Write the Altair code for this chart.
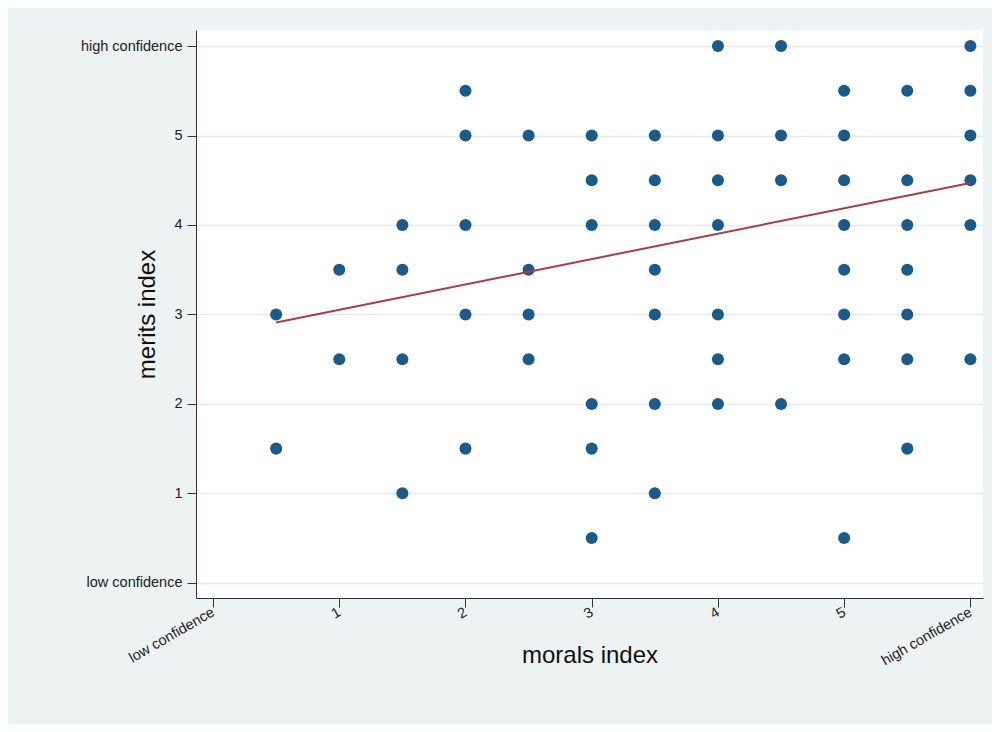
import altair as alt
import pandas as pd

# scatter data: morals index (x) vs merits index (y)
morals = [0.5, 0.5,
          1, 1,
          1.5, 1.5, 1.5, 1.5,
          2, 2, 2, 2, 2,
          2.5, 2.5, 2.5, 2.5,
          3, 3, 3, 3, 3, 3,
          3.5, 3.5, 3.5, 3.5, 3.5, 3.5, 3.5,
          4, 4, 4, 4, 4, 4, 4,
          4.5, 4.5, 4.5, 4.5,
          5, 5, 5, 5, 5, 5, 5, 5,
          5.5, 5.5, 5.5, 5.5, 5.5, 5.5, 5.5,
          6, 6, 6, 6, 6, 6]
merits = [3, 1.5,
          3.5, 2.5,
          4, 3.5, 2.5, 1,
          5.5, 5, 4, 3, 1.5,
          5, 3.5, 3, 2.5,
          5, 4.5, 4, 2, 1.5, 0.5,
          5, 4.5, 4, 3.5, 3, 2, 1,
          6, 5, 4.5, 4, 3, 2.5, 2,
          6, 5, 4.5, 2,
          5.5, 5, 4.5, 4, 3.5, 3, 2.5, 0.5,
          5.5, 4.5, 4, 3.5, 3, 2.5, 1.5,
          6, 5.5, 5, 4.5, 4, 2.5]

# fitted line endpoints
fit_x = [0.5, 6]
fit_y = [2.91, 4.47]

tick_values = [0, 1, 2, 3, 4, 5, 6]

pts = pd.DataFrame({"morals": morals, "merits": merits})
fit = pd.DataFrame({"morals": fit_x, "merits": fit_y})

label_expr = "datum.value == 0 ? 'low confidence' : (datum.value == 6 ? 'high confidence' : format(datum.value, 'd'))"

W, H = 787, 568

xscale = alt.Scale(domain=[-0.135, 6.10], nice=False, zero=False)
yscale = alt.Scale(domain=[-0.17, 6.18], nice=False, zero=False)

xaxis = alt.Axis(values=tick_values, labelExpr=label_expr, labelAngle=-30,
                 labelAlign="right", labelBaseline="middle",
                 title="morals index", grid=False, tickSize=9, tickColor="#333",
                 domainColor="#333", labelFont="Liberation Sans", labelFontSize=14.5,
                 labelColor="#222", labelPadding=4,
                 titleFont="Liberation Sans", titleFontSize=24, titleFontWeight="normal",
                 titleColor="#111", titleX=W / 2, titleY=57, titleBaseline="middle",
                 titleAnchor="middle")
yaxis = alt.Axis(values=tick_values, labelExpr=label_expr, title="merits index",
                 grid=True, gridColor="#e4eaea", gridWidth=1.5, tickSize=9,
                 tickColor="#333", domainColor="#333", labelFont="Liberation Sans",
                 labelFontSize=14.5, labelColor="#222", labelPadding=5,
                 titleFont="Liberation Sans", titleFontSize=24, titleFontWeight="normal",
                 titleColor="#111", titleX=-49, titleY=H / 2, titleBaseline="middle",
                 titleAngle=-90, titleAlign="center")

points = alt.Chart(pts).mark_circle(size=145, opacity=1, color="#1c5a8a").encode(
    x=alt.X("morals:Q", scale=xscale, axis=xaxis),
    y=alt.Y("merits:Q", scale=yscale, axis=yaxis),
)

line = alt.Chart(fit).mark_line(color="#a83c48", strokeWidth=2).encode(
    x=alt.X("morals:Q", scale=xscale),
    y=alt.Y("merits:Q", scale=yscale),
)

chart = alt.layer(points, line).properties(
    width=W, height=H,
    autosize=alt.AutoSizeParams(type="none"),
    padding={"left": 188, "top": 22, "right": 9, "bottom": 126},
    background="#edf3f3",
).configure_view(fill="white", stroke=None)

chart.save("out.html", embed_options={"renderer": "svg", "actions": False})
